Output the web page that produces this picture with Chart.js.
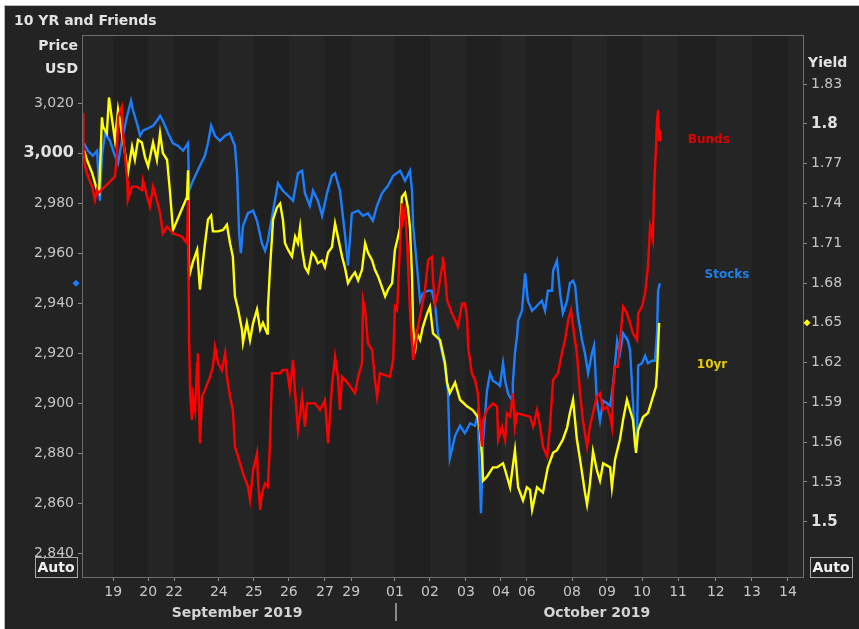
<!DOCTYPE html>
<html lang="en">
<head>
<meta charset="UTF-8">
<title>10 YR and Friends</title>
<script src="https://cdn.jsdelivr.net/npm/chart.js@4"></script>
<style>
  html, body { margin: 0; padding: 0; background: #fff; }
  #wrap { width: 859px; height: 629px; }
</style>
</head>
<body>
<div id="wrap"><canvas id="c" width="859" height="629"></canvas></div>
<script>
// x axis is trading-session time, in days from the start of Sep 18 (weekends squeezed out)
const dayTicks = [0.89, 1.89, 2.63, 3.91, 4.91, 5.91, 6.94, 7.69, 8.94, 9.94, 10.97, 11.97, 12.71, 14.0, 15.0, 16.0, 17.03, 18.11, 19.14, 20.17];
const dayLabels = ['19', '20', '22', '24', '25', '26', '27', '29', '01', '02', '03', '04', '06', '08', '09', '10', '11', '12', '13', '14'];
const monthLabels = ['September 2019', 'October 2019'];
const monthCenters = [4.43, 14.71];
const monthBreak = 8.94;

const priceTicks = [2840, 2860, 2880, 2900, 2920, 2940, 2960, 2980, 3000, 3020];
const yieldTicks = [1.5, 1.53, 1.56, 1.59, 1.62, 1.65, 1.68, 1.71, 1.74, 1.77, 1.8, 1.83];

// [day, S&P futures price]
const stocks = [[0.06,3004],[0.17,3001],[0.31,2999],[0.43,3001],[0.51,2981],[0.57,2999],[0.66,3008],[0.80,3005],[0.94,2999],[1.03,2996],[1.14,3005],[1.29,3015],[1.40,3021],[1.46,3017],[1.57,3012],[1.66,3007],[1.74,3009],[1.89,3010],[2.03,3011],[2.14,3013],[2.23,3015],[2.31,3013],[2.46,3008],[2.60,3004],[2.74,3003],[2.89,3001],[3.03,3004],[3.06,2985],[3.17,2989],[3.37,2995],[3.51,2999],[3.60,3004],[3.69,3011],[3.80,3007],[3.94,3005],[4.09,3007],[4.23,3008],[4.31,3005],[4.37,3003],[4.43,2992],[4.49,2968],[4.54,2960],[4.60,2971],[4.74,2976],[4.89,2977],[5.00,2973],[5.14,2964],[5.23,2961],[5.31,2965],[5.46,2977],[5.60,2988],[5.74,2985],[5.89,2983],[6.03,2981],[6.17,2992],[6.29,2993],[6.37,2984],[6.51,2979],[6.60,2985],[6.74,2981],[6.86,2975],[7.00,2984],[7.14,2991],[7.23,2992],[7.37,2985],[7.51,2968],[7.60,2955],[7.71,2976],[7.89,2977],[8.03,2975],[8.17,2976],[8.31,2973],[8.43,2979],[8.57,2984],[8.74,2987],[8.89,2991],[9.09,2993],[9.23,2989],[9.37,2993],[9.43,2985],[9.46,2971],[9.57,2955],[9.66,2941],[9.74,2944],[9.89,2945],[10.00,2945],[10.09,2939],[10.17,2928],[10.29,2920],[10.37,2915],[10.46,2904],[10.51,2878],[10.66,2887],[10.80,2891],[10.94,2888],[11.09,2892],[11.23,2891],[11.31,2896],[11.40,2856],[11.46,2885],[11.57,2905],[11.66,2912],[11.74,2909],[11.86,2908],[11.94,2907],[12.03,2916],[12.09,2909],[12.17,2904],[12.29,2901],[12.31,2908],[12.37,2920],[12.43,2927],[12.46,2933],[12.57,2937],[12.66,2952],[12.74,2941],[12.86,2937],[13.00,2939],[13.14,2941],[13.23,2937],[13.31,2945],[13.43,2945],[13.46,2953],[13.57,2957],[13.66,2944],[13.74,2936],[13.86,2941],[13.94,2948],[14.03,2949],[14.09,2947],[14.17,2935],[14.29,2925],[14.37,2920],[14.46,2912],[14.57,2920],[14.63,2923],[14.71,2901],[14.80,2893],[14.89,2901],[15.00,2900],[15.09,2899],[15.17,2907],[15.29,2925],[15.37,2920],[15.46,2928],[15.60,2925],[15.66,2921],[15.74,2901],[15.80,2882],[15.86,2888],[15.89,2915],[16.00,2916],[16.09,2919],[16.17,2916],[16.29,2917],[16.37,2917],[16.43,2928],[16.46,2945],[16.51,2948]];

// [day, US 10yr yield]
const tenYr = [[0.06,1.780],[0.14,1.773],[0.29,1.763],[0.43,1.750],[0.49,1.748],[0.57,1.805],[0.60,1.798],[0.71,1.793],[0.77,1.820],[0.86,1.803],[0.94,1.788],[1.03,1.811],[1.14,1.793],[1.23,1.778],[1.31,1.763],[1.43,1.783],[1.51,1.773],[1.60,1.788],[1.71,1.786],[1.80,1.775],[1.89,1.768],[2.03,1.786],[2.14,1.773],[2.23,1.793],[2.31,1.778],[2.43,1.773],[2.51,1.750],[2.60,1.720],[3.00,1.745],[3.03,1.765],[3.06,1.685],[3.17,1.696],[3.29,1.705],[3.37,1.675],[3.43,1.690],[3.51,1.709],[3.60,1.728],[3.69,1.731],[3.74,1.719],[3.89,1.719],[4.03,1.720],[4.14,1.724],[4.23,1.710],[4.31,1.700],[4.37,1.670],[4.46,1.660],[4.57,1.645],[4.60,1.635],[4.71,1.650],[4.80,1.637],[4.89,1.650],[5.00,1.660],[5.09,1.645],[5.17,1.650],[5.29,1.642],[5.31,1.660],[5.37,1.690],[5.46,1.728],[5.57,1.737],[5.66,1.740],[5.74,1.728],[5.80,1.710],[5.89,1.705],[6.00,1.700],[6.09,1.715],[6.17,1.710],[6.23,1.722],[6.29,1.705],[6.37,1.692],[6.46,1.688],[6.57,1.703],[6.66,1.700],[6.74,1.695],[6.86,1.697],[6.94,1.692],[7.03,1.703],[7.14,1.707],[7.23,1.725],[7.31,1.715],[7.43,1.700],[7.51,1.692],[7.60,1.680],[7.71,1.685],[7.80,1.688],[7.89,1.682],[8.00,1.690],[8.09,1.710],[8.17,1.703],[8.29,1.697],[8.37,1.690],[8.46,1.685],[8.57,1.677],[8.66,1.670],[8.74,1.675],[8.86,1.680],[8.94,1.705],[9.03,1.715],[9.09,1.722],[9.14,1.745],[9.23,1.748],[9.31,1.737],[9.37,1.722],[9.43,1.685],[9.46,1.647],[9.51,1.627],[9.57,1.642],[9.66,1.637],[9.74,1.647],[9.86,1.657],[9.94,1.662],[10.03,1.642],[10.23,1.637],[10.37,1.620],[10.43,1.605],[10.51,1.597],[10.66,1.605],[10.80,1.592],[11.00,1.587],[11.17,1.584],[11.31,1.579],[11.37,1.569],[11.43,1.549],[11.46,1.531],[11.57,1.534],[11.74,1.541],[11.86,1.541],[12.03,1.544],[12.09,1.539],[12.23,1.526],[12.37,1.554],[12.46,1.526],[12.60,1.516],[12.71,1.526],[12.80,1.524],[12.86,1.509],[13.00,1.526],[13.17,1.522],[13.31,1.541],[13.46,1.552],[13.57,1.554],[13.74,1.562],[13.86,1.571],[13.94,1.582],[14.03,1.592],[14.14,1.562],[14.23,1.547],[14.37,1.522],[14.43,1.513],[14.51,1.528],[14.60,1.553],[14.71,1.539],[14.80,1.531],[14.89,1.544],[15.09,1.541],[15.14,1.526],[15.23,1.547],[15.37,1.562],[15.46,1.577],[15.57,1.592],[15.66,1.584],[15.74,1.577],[15.83,1.552],[15.89,1.569],[16.03,1.579],[16.17,1.582],[16.23,1.587],[16.31,1.594],[16.40,1.602],[16.43,1.614],[16.49,1.650]];

// [day, 10yr Bund yield] (own hidden axis)
const bunds = [[0.03,-0.488],[0.04,-0.499],[0.09,-0.504],[0.17,-0.507],[0.29,-0.510],[0.37,-0.514],[0.43,-0.511],[0.46,-0.512],[0.94,-0.507],[1.00,-0.500],[1.03,-0.489],[1.14,-0.486],[1.17,-0.494],[1.23,-0.501],[1.29,-0.508],[1.31,-0.514],[1.43,-0.510],[1.57,-0.510],[1.71,-0.511],[1.74,-0.508],[1.86,-0.513],[1.94,-0.516],[2.03,-0.510],[2.14,-0.514],[2.23,-0.518],[2.31,-0.524],[2.43,-0.522],[2.60,-0.524],[2.86,-0.525],[3.00,-0.527],[3.03,-0.514],[3.06,-0.557],[3.09,-0.572],[3.14,-0.580],[3.17,-0.573],[3.23,-0.577],[3.29,-0.563],[3.31,-0.560],[3.37,-0.587],[3.43,-0.573],[3.51,-0.571],[3.66,-0.567],[3.74,-0.564],[3.80,-0.558],[3.89,-0.563],[4.00,-0.565],[4.09,-0.560],[4.14,-0.567],[4.23,-0.573],[4.31,-0.577],[4.37,-0.588],[4.46,-0.591],[4.60,-0.596],[4.74,-0.600],[4.80,-0.604],[4.89,-0.595],[5.00,-0.590],[5.03,-0.598],[5.09,-0.607],[5.14,-0.602],[5.23,-0.599],[5.31,-0.600],[5.37,-0.587],[5.43,-0.566],[5.66,-0.566],[5.74,-0.565],[5.86,-0.565],[5.94,-0.571],[6.03,-0.562],[6.09,-0.572],[6.17,-0.583],[6.29,-0.573],[6.37,-0.582],[6.43,-0.575],[6.66,-0.575],[6.80,-0.577],[6.94,-0.574],[7.03,-0.587],[7.14,-0.570],[7.23,-0.561],[7.31,-0.567],[7.37,-0.577],[7.43,-0.567],[7.60,-0.569],[7.80,-0.572],[7.89,-0.567],[8.00,-0.563],[8.03,-0.544],[8.09,-0.547],[8.17,-0.557],[8.29,-0.559],[8.37,-0.568],[8.43,-0.573],[8.51,-0.566],[8.80,-0.567],[8.89,-0.562],[8.94,-0.546],[9.00,-0.547],[9.09,-0.527],[9.14,-0.515],[9.17,-0.520],[9.23,-0.517],[9.29,-0.527],[9.31,-0.532],[9.37,-0.547],[9.43,-0.557],[9.46,-0.562],[9.51,-0.558],[9.60,-0.552],[9.71,-0.546],[9.80,-0.541],[9.89,-0.532],[10.00,-0.531],[10.03,-0.538],[10.09,-0.545],[10.17,-0.542],[10.29,-0.534],[10.31,-0.531],[10.37,-0.536],[10.43,-0.544],[10.57,-0.548],[10.66,-0.550],[10.74,-0.552],[10.86,-0.545],[10.94,-0.545],[11.00,-0.549],[11.03,-0.558],[11.14,-0.566],[11.23,-0.568],[11.31,-0.572],[11.37,-0.582],[11.43,-0.588],[11.46,-0.580],[11.57,-0.577],[11.74,-0.575],[11.86,-0.576],[11.89,-0.586],[12.00,-0.582],[12.09,-0.586],[12.14,-0.578],[12.23,-0.579],[12.31,-0.572],[12.37,-0.582],[12.43,-0.578],[12.80,-0.579],[12.89,-0.582],[13.00,-0.577],[13.09,-0.582],[13.17,-0.588],[13.29,-0.591],[13.37,-0.582],[13.46,-0.568],[13.60,-0.566],[13.71,-0.560],[13.80,-0.556],[13.89,-0.550],[13.97,-0.547],[14.03,-0.552],[14.14,-0.560],[14.23,-0.572],[14.31,-0.580],[14.43,-0.588],[14.51,-0.582],[14.60,-0.578],[14.71,-0.573],[14.80,-0.572],[14.89,-0.577],[15.00,-0.576],[15.09,-0.579],[15.14,-0.582],[15.17,-0.571],[15.23,-0.564],[15.31,-0.564],[15.46,-0.546],[15.57,-0.548],[15.66,-0.551],[15.74,-0.554],[15.86,-0.556],[15.89,-0.548],[16.00,-0.546],[16.09,-0.542],[16.17,-0.534],[16.23,-0.522],[16.31,-0.526],[16.34,-0.512],[16.40,-0.498],[16.43,-0.490],[16.46,-0.487],[16.49,-0.496],[16.51,-0.493]];

const FONT = 'DejaVu Sans';
const toXY = arr => arr.map(p => ({ x: p[0], y: p[1] }));
const isBold = (v, list) => list.some(b => Math.abs(v - b) < 1e-6);

const frame = {
  id: 'frame',
  beforeDraw(chart) {
    const { ctx, chartArea: a, scales } = chart;
    ctx.save();
    ctx.fillStyle = '#ffffff';
    ctx.fillRect(0, 0, chart.width, chart.height);
    ctx.fillStyle = '#232323';
    ctx.fillRect(4, 5, chart.width - 4, chart.height - 5);
    ctx.fillStyle = '#b8b8b8';
    ctx.fillRect(4, 5, chart.width - 4, 1);
    ctx.fillRect(4, 5, 1, chart.height - 5);
    // alternating day bands, first one lighter
    const edges = [a.left, ...dayTicks.map(v => scales.x.getPixelForValue(v)), a.right];
    for (let i = 0; i < edges.length - 1; i++) {
      ctx.fillStyle = i % 2 ? '#202020' : '#252525';
      ctx.fillRect(edges[i], a.top, edges[i + 1] - edges[i], a.bottom - a.top);
    }
    ctx.restore();
  },
  afterDraw(chart) {
    const { ctx, chartArea: a, scales } = chart;
    ctx.save();
    ctx.strokeStyle = '#6e6e6e';
    ctx.lineWidth = 1;
    ctx.strokeRect(a.left + 0.5, a.top + 0.5, a.right - a.left, a.bottom - a.top);

    ctx.fillStyle = '#e2e2e2';
    ctx.font = `bold 14px "${FONT}"`;
    ctx.textBaseline = 'middle';
    ctx.textAlign = 'left';
    ctx.fillText('10 YR and Friends', 14, 21);
    ctx.textAlign = 'right';
    ctx.fillText('Price', 78, 46);
    ctx.fillText('USD', 78, 69);
    ctx.textAlign = 'left';
    ctx.fillText('Yield', 808, 63);

    // Auto boxes
    [[35, 557], [810, 557]].forEach(([bx, by]) => {
      ctx.strokeStyle = '#a8a8a8';
      ctx.strokeRect(bx + 0.5, by + 0.5, 42, 20);
      ctx.fillStyle = '#f0f0f0';
      ctx.textAlign = 'center';
      ctx.fillText('Auto', bx + 21, by + 11);
    });

    // last-value diamonds
    const diamond = (x, y, c) => {
      ctx.fillStyle = c;
      ctx.beginPath();
      ctx.moveTo(x, y - 3.5); ctx.lineTo(x + 3.5, y); ctx.lineTo(x, y + 3.5); ctx.lineTo(x - 3.5, y);
      ctx.closePath(); ctx.fill();
    };
    diamond(76, scales.yP.getPixelForValue(stocks[stocks.length - 1][1]), '#1a7fff');
    diamond(807, scales.yY.getPixelForValue(tenYr[tenYr.length - 1][1]), '#ffff00');

    // series tags
    ctx.font = `bold 12px "${FONT}"`;
    ctx.textAlign = 'center';
    ctx.fillStyle = '#e00000';
    ctx.fillText('Bunds', scales.x.getPixelForValue(17.91), scales.yB.getPixelForValue(-0.496));
    ctx.fillStyle = '#1f7fe8';
    ctx.fillText('Stocks', scales.x.getPixelForValue(18.43), scales.yP.getPixelForValue(2951.5));
    ctx.fillStyle = '#e8cc00';
    ctx.fillText('10yr', scales.x.getPixelForValue(18.0), scales.yY.getPixelForValue(1.618));

    // month row
    ctx.font = `bold 14px "${FONT}"`;
    ctx.fillStyle = '#d4d4d4';
    monthLabels.forEach((m, i) => ctx.fillText(m, scales.x.getPixelForValue(monthCenters[i]), 613));
    const bxp = Math.round(scales.x.getPixelForValue(monthBreak));
    ctx.fillStyle = '#8a8a8a';
    ctx.fillRect(bxp, 603, 2, 18);
    ctx.restore();
  }
};

new Chart(document.getElementById('c'), {
  type: 'line',
  data: {
    datasets: [
      { label: 'Bunds', data: toXY(bunds), yAxisID: 'yB', borderColor: '#ff0000', borderWidth: 2.4, pointRadius: 0, tension: 0 },
      { label: '10yr', data: toXY(tenYr), yAxisID: 'yY', borderColor: '#ffff00', borderWidth: 2.4, pointRadius: 0, tension: 0 },
      { label: 'Stocks', data: toXY(stocks), yAxisID: 'yP', borderColor: '#1a7fff', borderWidth: 2.4, pointRadius: 0, tension: 0 }
    ]
  },
  options: {
    responsive: false,
    animation: false,
    events: [],
    layout: { padding: { top: 35, left: 0, right: 0, bottom: 0 } },
    plugins: { legend: { display: false }, tooltip: { enabled: false } },
    scales: {
      x: {
        type: 'linear', min: 0, max: 20.6,
        afterBuildTicks: s => { s.ticks = dayTicks.map(v => ({ value: v })); },
        afterFit: s => { s.height = 52; },
        ticks: {
          autoSkip: false, maxRotation: 0, minRotation: 0, padding: 3,
          color: '#c8c8c8', font: { family: FONT, size: 14 },
          callback: (v, i) => dayLabels[i]
        },
        grid: { drawOnChartArea: false, color: '#8a8a8a', tickLength: 4 },
        border: { color: '#6e6e6e' }
      },
      yP: {
        type: 'linear', position: 'left', min: 2830.5, max: 3047.3,
        afterBuildTicks: s => { s.ticks = priceTicks.map(v => ({ value: v })); },
        afterFit: s => { s.width = 82; },
        ticks: {
          autoSkip: false, padding: 4,
          color: c => (c.tick && c.tick.value === 3000) ? '#e0e0e0' : '#c4c4c4',
          font: c => (c.tick && c.tick.value === 3000) ? { family: FONT, size: 16, weight: 'bold' } : { family: FONT, size: 14 },
          callback: v => v.toLocaleString('en-US')
        },
        grid: { drawOnChartArea: false, color: '#8a8a8a', tickLength: 4 },
        border: { color: '#6e6e6e' }
      },
      yY: {
        type: 'linear', position: 'right', min: 1.4583, max: 1.8671,
        afterBuildTicks: s => { s.ticks = yieldTicks.map(v => ({ value: v })); },
        afterFit: s => { s.width = 56; },
        ticks: {
          autoSkip: false, padding: 4,
          color: c => (c.tick && isBold(c.tick.value, [1.5, 1.8])) ? '#e0e0e0' : '#c4c4c4',
          font: c => (c.tick && isBold(c.tick.value, [1.5, 1.8])) ? { family: FONT, size: 15, weight: 'bold' } : { family: FONT, size: 14 },
          callback: v => v.toFixed(2).replace(/0$/, '')
        },
        grid: { drawOnChartArea: false, color: '#8a8a8a', tickLength: 4 },
        border: { color: '#6e6e6e' }
      },
      yB: { type: 'linear', display: false, min: -0.6271, max: -0.4645 }
    }
  },
  plugins: [frame]
});
</script>
</body>
</html>
